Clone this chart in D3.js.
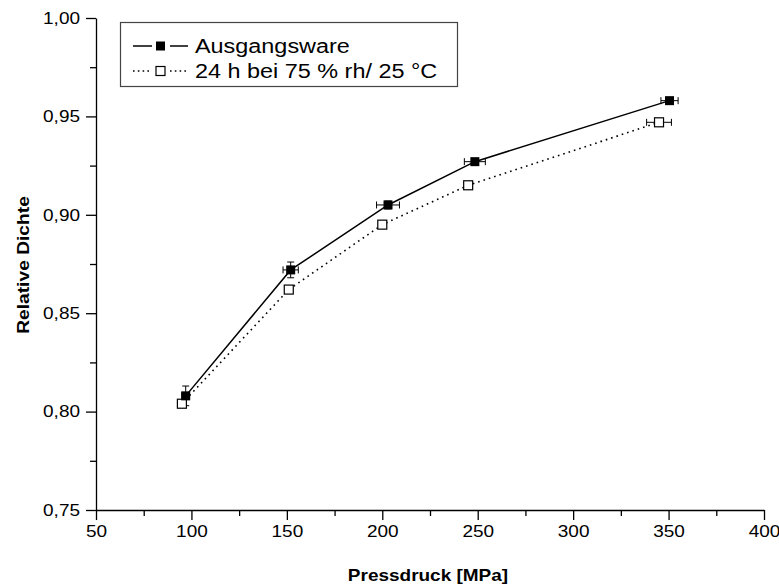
<!DOCTYPE html>
<html>
<head>
<meta charset="utf-8">
<script src="https://cdn.jsdelivr.net/npm/d3@7"></script>
<style>
  html, body { margin: 0; padding: 0; background: #fff; }
  svg { display: block; }
  text { font-family: "Liberation Sans", Arial, sans-serif; fill: #000; }
</style>
</head>
<body>
<svg id="chart" width="779" height="586"></svg>
<script>
// Pressure (MPa) vs. relative density, two storage conditions
const seriesNames = ["Ausgangsware", "24 h bei 75 % rh/ 25 °C"];

const pressA = [97, 152, 203, 248.5, 350.5];
const densA  = [0.808, 0.872, 0.905, 0.927, 0.958];
const xErrA  = [2, 4, 6, 5.5, 4.5];
const yErrA  = [0.005, 0.004, 0.002, 0.0015, 0.001];

const pressB = [95, 151, 200, 245, 345];
const densB  = [0.804, 0.862, 0.895, 0.915, 0.947];
const xErrB  = [1, 1, 1.5, 2, 6.5];
const yErrB  = [0.001, 0.001, 0.001, 0.001, 0.001];

const xTicks = [50, 100, 150, 200, 250, 300, 350, 400];
const yTicks = [0.75, 0.80, 0.85, 0.90, 0.95, 1.00];
const xMinor = [75, 125, 175, 225, 275, 325, 375];
const yMinor = [0.775, 0.825, 0.875, 0.925, 0.975];

const svg = d3.select("#chart");
const plotLeft = 96, plotRight = 764, plotTop = 18, plotBottom = 510;
const STRETCH = 1.2;

const x = d3.scaleLinear().domain([50, 400]).range([plotLeft, plotRight]);
const y = d3.scaleLinear().domain([0.75, 1.00]).range([plotBottom, plotTop]);

const fmt = d => d.toFixed(2).replace(".", ",");

// widen glyphs along the text direction
function widen(sel, k = STRETCH) {
  sel.each(function () {
    const w = this.getComputedTextLength();
    this.setAttribute("textLength", w * k);
    this.setAttribute("lengthAdjust", "spacingAndGlyphs");
  });
}

// axes
const gx = svg.append("g").attr("transform", `translate(0,${plotBottom})`)
  .call(d3.axisBottom(x).tickValues(xTicks).tickSize(10).tickSizeOuter(0).tickPadding(5));
const gy = svg.append("g").attr("transform", `translate(${plotLeft},0)`)
  .call(d3.axisLeft(y).tickValues(yTicks).tickFormat(fmt).tickSize(10).tickSizeOuter(0).tickPadding(6));

svg.append("g").attr("transform", `translate(0,${plotBottom})`)
  .call(d3.axisBottom(x).tickValues(xMinor).tickSize(6).tickFormat("").tickSizeOuter(0))
  .select(".domain").remove();
svg.append("g").attr("transform", `translate(${plotLeft},0)`)
  .call(d3.axisLeft(y).tickValues(yMinor).tickSize(6).tickFormat("").tickSizeOuter(0))
  .select(".domain").remove();

svg.selectAll(".domain, .tick line").attr("stroke", "#000").attr("stroke-width", 1.3);
gx.selectAll("text").style("font-size", "16.5px").attr("fill", "#000");
gy.selectAll("text").style("font-size", "16.5px").attr("fill", "#000");
widen(gx.selectAll("text"), 1.15);
widen(gy.selectAll("text"), 1.15);

// axis titles
const xt = svg.append("text").attr("x", 428).attr("y", 581).attr("text-anchor", "middle")
  .style("font-size", "16.5px").style("font-weight", "bold").text("Pressdruck [MPa]");
widen(xt, 1.15);
const yt = svg.append("text").attr("transform", "translate(29,265) rotate(-90)").attr("text-anchor", "middle")
  .style("font-size", "17px").style("font-weight", "bold").text("Relative Dichte");
widen(yt, 1.13);

// series
const dataA = pressA.map((p, i) => ({ p, d: densA[i], xe: xErrA[i], ye: yErrA[i] }));
const dataB = pressB.map((p, i) => ({ p, d: densB[i], xe: xErrB[i], ye: yErrB[i] }));

const line = d3.line().x(d => x(d.p)).y(d => y(d.d));

svg.append("path").datum(dataB).attr("d", line).attr("fill", "none")
  .attr("stroke", "#000").attr("stroke-width", 1.6).attr("stroke-dasharray", "1.6,4");
svg.append("path").datum(dataA).attr("d", line).attr("fill", "none")
  .attr("stroke", "#000").attr("stroke-width", 1.5);

function errorBars(data) {
  const g = svg.append("g").attr("stroke", "#000").attr("stroke-width", 1);
  const cap = 3.5;
  data.forEach(d => {
    const cx = x(d.p), cy = y(d.d);
    const x0 = x(d.p - d.xe), x1 = x(d.p + d.xe);
    const y0 = y(d.d - d.ye), y1 = y(d.d + d.ye);
    g.append("line").attr("x1", x0).attr("x2", x1).attr("y1", cy).attr("y2", cy);
    g.append("line").attr("x1", x0).attr("x2", x0).attr("y1", cy - cap).attr("y2", cy + cap);
    g.append("line").attr("x1", x1).attr("x2", x1).attr("y1", cy - cap).attr("y2", cy + cap);
    g.append("line").attr("x1", cx).attr("x2", cx).attr("y1", y0).attr("y2", y1);
    g.append("line").attr("x1", cx - cap).attr("x2", cx + cap).attr("y1", y0).attr("y2", y0);
    g.append("line").attr("x1", cx - cap).attr("x2", cx + cap).attr("y1", y1).attr("y2", y1);
  });
}
errorBars(dataB);
errorBars(dataA);

const ms = 9;
svg.append("g").selectAll("rect").data(dataB).join("rect")
  .attr("x", d => x(d.p) - ms / 2).attr("y", d => y(d.d) - ms / 2)
  .attr("width", ms).attr("height", ms)
  .attr("fill", "#fff").attr("stroke", "#000").attr("stroke-width", 1.2);
svg.append("g").selectAll("rect").data(dataA).join("rect")
  .attr("x", d => x(d.p) - ms / 2).attr("y", d => y(d.d) - ms / 2)
  .attr("width", ms).attr("height", ms).attr("fill", "#000");

// legend
const lg = svg.append("g");
lg.append("rect").attr("x", 120.5).attr("y", 22.5).attr("width", 337).attr("height", 64)
  .attr("fill", "#fff").attr("stroke", "#444").attr("stroke-width", 1.2);
const rows = [
  { name: seriesNames[0], dash: null, fill: "#000", yy: 46 },
  { name: seriesNames[1], dash: "1.6,3.2", fill: "#fff", yy: 71 }
];
rows.forEach(r => {
  [[133, 152], [170, 188]].forEach(([a, b]) => {
    lg.append("line").attr("x1", a).attr("x2", b).attr("y1", r.yy).attr("y2", r.yy)
      .attr("stroke", "#000").attr("stroke-width", 1.5).attr("stroke-dasharray", r.dash);
  });
  lg.append("rect").attr("x", 160.5 - ms / 2).attr("y", r.yy - ms / 2).attr("width", ms).attr("height", ms)
    .attr("fill", r.fill).attr("stroke", "#000").attr("stroke-width", r.fill === "#fff" ? 1.2 : 0);
  const t = lg.append("text").attr("x", 195).attr("y", r.yy + 7)
    .style("font-size", "19.5px").text(r.name);
  widen(t);
});
</script>
</body>
</html>
